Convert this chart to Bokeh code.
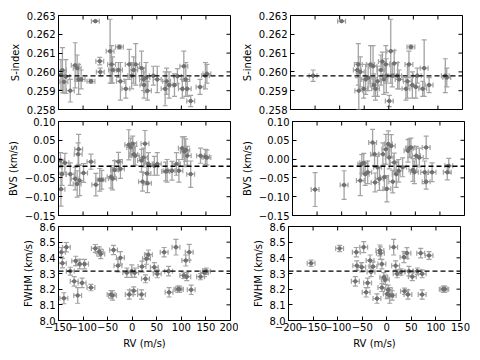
import math
from bokeh.plotting import figure
from bokeh.layouts import column, row
from bokeh.models import (ColumnDataSource, Whisker, TeeHead, Span, FixedTicker,
                          Range1d, CustomJSTickFormatter)
from bokeh.embed import file_html
from bokeh.resources import INLINE

# ---------------- data ----------------
RV_ERR = 8.0  # m/s

# Left column: indices vs RV
left_rv_s = [-145, -142, -139, -135, -126, -116, -112, -109, -104, -84, -75, -66, -65, -45, -42, -40,
             -28, -26, -24, -13, -6, -1, 3, 7, 19, 23, 24, 28, 31, 43, 51, 67, 70, 75, 86, 92, 102,
             105, 109, 112, 119, 138, 149, 152]
left_s = [0.25985, 0.26009, 0.25947, 0.25975, 0.2590, 0.26035, 0.2602, 0.2596, 0.2596, 0.2595, 0.2627,
          0.26057, 0.2600, 0.2611, 0.2604, 0.2601, 0.2601, 0.26133, 0.2595, 0.2591, 0.2604, 0.2598,
          0.2601, 0.2604, 0.2602, 0.2596, 0.2593, 0.2597, 0.2590, 0.2598, 0.2596, 0.2591, 0.2595,
          0.2593, 0.2593, 0.25977, 0.2591, 0.2603, 0.2596, 0.2591, 0.25845, 0.2592, 0.2598, 0.2599]
left_s_err = [0.0008, 0.0012, 0.0006, 0.0009, 0.0006, 0.0012, 0.0007, 0.0008, 0.0005, 0.0001, 0.00003,
              0.0002, 0.0002, 0.0017, 0.0010, 0.0007, 0.0004, 0.0001, 0.0010, 0.0005, 0.0008, 0.0007,
              0.0007, 0.0011, 0.0009, 0.0006, 0.0007, 0.0008, 0.0005, 0.0005, 0.0007, 0.0009, 0.0007,
              0.0007, 0.0006, 0.0004, 0.0005, 0.0008, 0.0009, 0.0004, 0.0003, 0.0004, 0.0007, 0.0005]

left_rv_b = [-146, -145, -143, -137, -126, -116, -112, -110, -109, -107, -99, -84, -74, -66, -62, -43,
             -40, -36, -28, -24, -7, -3, 1, 3, 6, 19, 23, 26, 21, 30, 31, 33, 45, 51, 68, 71, 81, 90,
             95, 102, 106, 109, 112, 119, 139, 149, 152]
left_b = [-0.003, -0.080, -0.040, -0.010, -0.040, -0.052, -0.066, 0.013, 0.026, -0.057, -0.037, -0.007,
          -0.068, -0.055, -0.055, -0.047, -0.052, -0.029, -0.007, -0.026, 0.038, 0.031, 0.041, 0.013,
          0.009, -0.004, 0.004, 0.041, -0.060, -0.038, -0.064, -0.013, -0.018, -0.013, -0.033, -0.031,
          -0.031, -0.013, -0.031, 0.029, 0.020, 0.024, 0.009, -0.040, 0.009, 0.006, 0.004]
left_b_err = [0.020, 0.045, 0.030, 0.025, 0.030, 0.030, 0.035, 0.030, 0.040, 0.040, 0.025, 0.020,
              0.030, 0.030, 0.025, 0.030, 0.030, 0.025, 0.025, 0.025, 0.040, 0.025, 0.020, 0.030,
              0.025, 0.030, 0.025, 0.035, 0.025, 0.030, 0.025, 0.030, 0.025, 0.030, 0.025, 0.030,
              0.025, 0.030, 0.030, 0.030, 0.040, 0.030, 0.025, 0.035, 0.020, 0.020, 0.020]

left_rv_f = [-144, -134, -142, -139, -126, -118, -115, -111, -107, -102, -97, -84, -75, -67, -64, -43,
             -40, -38, -29, -24, -11, -6, -1, 3, 5, 19, 20, 27, 29, 33, 45, 51, 65, 74, 75, 89, 93, 96,
             105, 109, 111, 116, 120, 139, 147, 151]
left_f = [8.436, 8.468, 8.366, 8.142, 8.315, 8.25, 8.38, 8.16, 8.36, 8.24, 8.36, 8.21, 8.46, 8.44, 8.425,
          8.166, 8.16, 8.45, 8.35, 8.40, 8.305, 8.166, 8.315, 8.19, 8.305, 8.166, 8.344, 8.266, 8.394,
          8.42, 8.34, 8.298, 8.436, 8.315, 8.18, 8.468, 8.20, 8.20, 8.288, 8.383, 8.28, 8.436, 8.196,
          8.28, 8.305, 8.315]
left_f_err = [0.03, 0.03, 0.03, 0.035, 0.025, 0.03, 0.03, 0.05, 0.03, 0.03, 0.03, 0.02, 0.025, 0.03, 0.03,
              0.025, 0.03, 0.03, 0.04, 0.04, 0.03, 0.03, 0.04, 0.025, 0.03, 0.03, 0.035, 0.025, 0.035,
              0.03, 0.03, 0.025, 0.03, 0.03, 0.03, 0.05, 0.02, 0.02, 0.02, 0.035, 0.025, 0.05, 0.03,
              0.02, 0.025, 0.02]

# Right column: indices vs RV
right_rv_s = [-154, -96, -62, -64, -61, -58, -51, -47, -42, -37, -32, -30, -27, -23, -16, -13, -10, -6,
              -5, 1, 4, 7, 11, 18, 21, 35, 38, 41, 45, 48, 55, 58, 69, 72, 82, 115, 118]
right_s = [0.2598, 0.2627, 0.2604, 0.2601, 0.2590, 0.2600, 0.2591, 0.2596, 0.2597, 0.2604, 0.2603, 0.2593,
           0.2591, 0.2595, 0.2601, 0.26055, 0.2596, 0.2604, 0.2598, 0.25845, 0.2611, 0.2598, 0.26045,
           0.2598, 0.2596, 0.2591, 0.2595, 0.2604, 0.26133, 0.2593, 0.2592, 0.2598, 0.2591, 0.2602,
           0.2593, 0.2598, 0.2597]
right_s_err = [0.0003, 0.00003, 0.0011, 0.0004, 0.0010, 0.0008, 0.0005, 0.0008, 0.0007, 0.0010, 0.0011,
               0.0006, 0.0006, 0.0008, 0.0008, 0.0005, 0.0008, 0.0010, 0.0009, 0.0003, 0.0017, 0.0006,
               0.0007, 0.0007, 0.0005, 0.0006, 0.0009, 0.0007, 0.0001, 0.0007, 0.0006, 0.0004, 0.0004,
               0.0015, 0.0004, 0.0009, 0.0005]

right_rv_b = [-154, -95, -62, -59, -55, -52, -47, -37, -33, -32, -27, -23, -16, -13, -10, -8, -5, -3, 1,
              4, 7, 11, 16, 24, 35, 38, 41, 45, 48, 52, 58, 69, 72, 72, 84, 115, 118]
right_b = [-0.081, -0.069, -0.057, -0.013, -0.010, -0.040, -0.035, 0.044, 0.013, -0.062, -0.022, -0.053,
           0.013, -0.048, 0.026, -0.079, 0.040, 0.004, 0.035, -0.060, -0.009, -0.040, -0.031, -0.022,
           0.022, 0.029, 0.031, -0.029, -0.035, 0.009, 0.004, -0.035, 0.031, -0.060, -0.035, -0.035,
           -0.018]
right_b_err = [0.045, 0.038, 0.040, 0.025, 0.025, 0.030, 0.030, 0.035, 0.030, 0.025, 0.030, 0.030, 0.030,
               0.035, 0.040, 0.035, 0.035, 0.030, 0.030, 0.030, 0.025, 0.035, 0.030, 0.025, 0.030,
               0.025, 0.025, 0.030, 0.030, 0.025, 0.025, 0.030, 0.030, 0.020, 0.025, 0.020, 0.020]

right_rv_f = [-154, -96, -62, -61, -64, -51, -47, -42, -39, -34, -32, -28, -20, -14, -13, -10, -10, -6,
              -3, 1, 3, 6, 11, 14, 18, 21, 29, 35, 36, 41, 43, 45, 52, 62, 69, 72, 72, 86, 115, 118]
right_f = [8.366, 8.46, 8.436, 8.35, 8.25, 8.34, 8.468, 8.18, 8.24, 8.383, 8.31, 8.344, 8.14, 8.447, 8.43,
           8.36, 8.21, 8.276, 8.26, 8.17, 8.196, 8.16, 8.16, 8.468, 8.35, 8.298, 8.31, 8.404, 8.187, 8.43,
           8.166, 8.315, 8.28, 8.315, 8.43, 8.166, 8.298, 8.415, 8.20, 8.20]
right_f_err = [0.02, 0.02, 0.03, 0.03, 0.03, 0.03, 0.035, 0.03, 0.03, 0.035, 0.03, 0.03, 0.03, 0.035, 0.04,
               0.03, 0.025, 0.03, 0.03, 0.03, 0.03, 0.05, 0.03, 0.05, 0.03, 0.025, 0.02, 0.035, 0.02,
               0.035, 0.03, 0.03, 0.025, 0.02, 0.03, 0.03, 0.025, 0.025, 0.02, 0.02]

# reference levels (dashed lines)
s_mean = 0.25979
b_mean = -0.019
f_mean = 8.315

# ticks
s_ticks = [0.258, 0.259, 0.260, 0.261, 0.262, 0.263]
b_ticks = [-0.15, -0.10, -0.05, 0.00, 0.05, 0.10]
f_ticks = [8.0, 8.1, 8.2, 8.3, 8.4, 8.5, 8.6]
left_x_ticks = [-150, -100, -50, 0, 50, 100, 150, 200]
right_x_ticks = [-200, -150, -100, -50, 0, 50, 100, 150]

# ---------------- styling ----------------
FONT = "DejaVu Sans"
TICK_SIZE = "10px"
ERR_COLOR = "#a3a3a3"
MARK_COLOR = "#707070"


def fmt(decimals):
    return CustomJSTickFormatter(code="return tick.toFixed(%d).replace('-', '\u2212');" % decimals)


def style_axis(ax, ticks, formatter):
    ax.ticker = FixedTicker(ticks=ticks)
    ax.formatter = formatter
    ax.major_tick_in = 4
    ax.major_tick_out = 0
    ax.minor_tick_line_color = None
    ax.axis_line_color = "black"
    ax.major_tick_line_color = "black"
    ax.major_label_text_font = FONT
    ax.major_label_text_font_size = TICK_SIZE
    ax.major_label_text_color = "black"
    ax.major_label_standoff = 3
    ax.axis_label_text_font = FONT
    ax.axis_label_text_font_size = TICK_SIZE
    ax.axis_label_text_font_style = "normal"
    ax.axis_label_text_color = "black"
    ax.axis_label_standoff = 3


def panel(rv, val, err, xr, yr, xticks, yticks, ydec, ylabel, mean, show_x, borders):
    lb, rb, tb, bb = borders
    p = figure(frame_width=172, frame_height=94, x_range=Range1d(*xr), y_range=Range1d(*yr),
               output_backend="svg", toolbar_location=None,
               min_border_left=lb, min_border_right=rb,
               min_border_top=tb, min_border_bottom=bb)
    p.grid.visible = False
    p.outline_line_color = "black"
    p.outline_line_width = 1
    p.background_fill_color = "white"
    p.border_fill_color = "white"

    src = ColumnDataSource(dict(
        x=rv, y=val,
        yl=[v - e for v, e in zip(val, err)], yu=[v + e for v, e in zip(val, err)],
        xl=[x - RV_ERR for x in rv], xu=[x + RV_ERR for x in rv]))

    def head():
        return TeeHead(size=5, line_color=ERR_COLOR, line_width=1.2)

    p.add_layout(Whisker(source=src, base="x", lower="yl", upper="yu", dimension="height",
                         line_color=ERR_COLOR, line_width=1.3, lower_head=head(), upper_head=head()))
    p.add_layout(Whisker(source=src, base="y", lower="xl", upper="xu", dimension="width",
                         line_color=ERR_COLOR, line_width=1.3, lower_head=head(), upper_head=head()))
    p.scatter("x", "y", source=src, marker="circle", size=3.5, color=MARK_COLOR)

    p.add_layout(Span(location=mean, dimension="width", line_color="black",
                      line_dash="5 3", line_width=1.3))

    # mirrored inward ticks on the frame edges (clipped to the frame, so half shows inside)
    ymin, ymax = yr
    xmin, xmax = xr
    edge_src = ColumnDataSource(dict(x=xticks, top=[ymax] * len(xticks), bot=[ymin] * len(xticks)))
    p.scatter("x", "top", source=edge_src, marker="dash", size=8, angle=math.pi / 2,
              line_color="black", line_width=1)
    ry = ColumnDataSource(dict(y=yticks, right=[xmax] * len(yticks)))
    p.scatter("right", "y", source=ry, marker="dash", size=8, line_color="black", line_width=1)

    if show_x:
        style_axis(p.xaxis[0], xticks, fmt(0))
        p.xaxis[0].axis_label = "RV (m/s)"
        p.xaxis[0].axis_label_standoff = 4
        p.xaxis[0].major_label_standoff = 2
    else:
        p.xaxis.visible = False
        p.scatter("x", "bot", source=edge_src, marker="dash", size=8, angle=math.pi / 2,
                  line_color="black", line_width=1)
    style_axis(p.yaxis[0], yticks, fmt(ydec))
    p.yaxis[0].axis_label = ylabel
    return p


LB = (58, 8)
RB = (50, 12)
rows = [(15, 6), (6, 5), (6, 32)]

p1 = panel(left_rv_s, left_s, left_s_err, (-150, 200), (0.258, 0.263), left_x_ticks, s_ticks, 3,
           "S-index", s_mean, False, LB + rows[0])
p2 = panel(right_rv_s, right_s, right_s_err, (-200, 150), (0.258, 0.263), right_x_ticks, s_ticks, 3,
           "S-index", s_mean, False, RB + rows[0])
p3 = panel(left_rv_b, left_b, left_b_err, (-150, 200), (-0.15, 0.10), left_x_ticks, b_ticks, 2,
           "BVS (km/s)", b_mean, False, LB + rows[1])
p4 = panel(right_rv_b, right_b, right_b_err, (-200, 150), (-0.15, 0.10), right_x_ticks, b_ticks, 2,
           "BVS (km/s)", b_mean, False, RB + rows[1])
p5 = panel(left_rv_f, left_f, left_f_err, (-150, 200), (8.0, 8.6), left_x_ticks, f_ticks, 1,
           "FWHM (km/s)", f_mean, True, LB + rows[2])
p6 = panel(right_rv_f, right_f, right_f_err, (-200, 150), (8.0, 8.6), right_x_ticks, f_ticks, 1,
           "FWHM (km/s)", f_mean, True, RB + rows[2])

layout = column(row(p1, p2), row(p3, p4), row(p5, p6))

open("out.html", "w").write(file_html(layout, INLINE))
